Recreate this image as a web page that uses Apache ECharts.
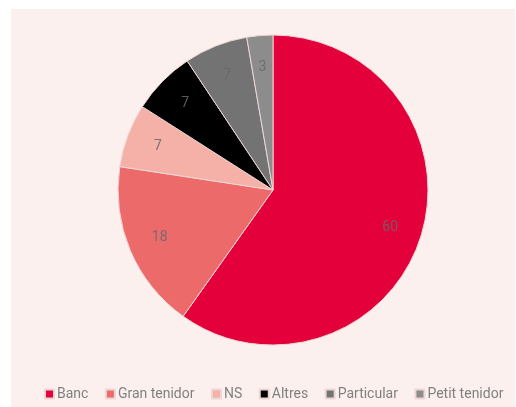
<!DOCTYPE html>
<html><head><meta charset="utf-8">
<script src="https://cdn.jsdelivr.net/npm/echarts@6/dist/echarts.min.js"></script>
<style>
html,body{margin:0;padding:0;background:#fff;}
#c{position:absolute;left:11px;top:9px;width:504px;height:398px;background:#fcf0ef;}
</style></head>
<body><div id="c"></div>
<script>
const categories = ['Banc','Gran tenidor','NS','Altres','Particular','Petit tenidor'];
const values = [59.6, 17.5, 6.6, 6.6, 6.6, 2.7];
const colors = ['#e4003a','#ec6a6a','#f5b0a8','#000000','#737373','#8c8c8c'];

const pieData = categories.map((c, i) => ({ name: c, value: values[i] }));
const chart = echarts.init(document.getElementById('c'));
chart.setOption({
  backgroundColor: '#fcf0ef',
  color: colors,
  animation: false,
  legend: {
    bottom: 1,
    left: 28,
    itemWidth: 9,
    itemHeight: 9,
    itemGap: 16.5,
    icon: 'rect',
    textStyle: { fontFamily: 'Roboto', fontSize: 14, color: '#808080', padding: [0,0,0,-2] },
    data: categories
  },
  series: [{
    type: 'pie',
    center: [262, 181],
    radius: [0, 155],
    startAngle: 90,
    clockwise: true,
    itemStyle: { borderColor: '#eed6d4', borderWidth: 1 },
    label: { show: false },
    labelLine: { show: false },
    emphasis: { disabled: true },
    data: pieData
  }, {
    type: 'pie',
    center: [262, 181],
    radius: [80, 160],
    startAngle: 90,
    clockwise: true,
    silent: true,
    itemStyle: { color: 'rgba(0,0,0,0)', borderWidth: 0 },
    label: {
      position: 'inside',
      fontFamily: 'Roboto',
      fontSize: 14,
      color: 'rgba(105,105,105,0.85)',
      formatter: p => String(Math.round(p.value))
    },
    labelLine: { show: false },
    emphasis: { disabled: true },
    legendHoverLink: false,
    data: pieData
  }]
});
</script></body></html>
